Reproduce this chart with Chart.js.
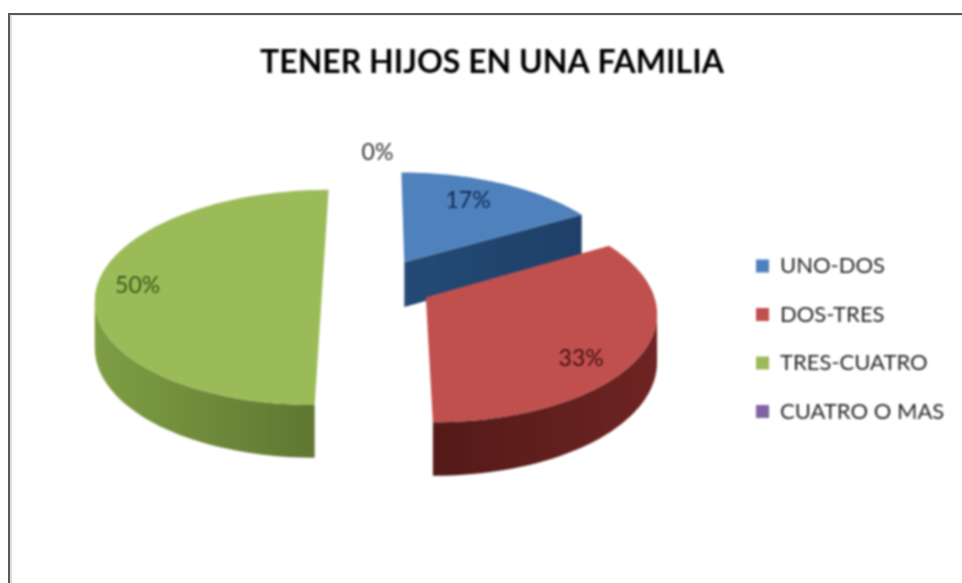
<!DOCTYPE html>
<html><head><meta charset="utf-8">
<style>
html,body{margin:0;padding:0;background:#fff;overflow:hidden}
#wrap{position:relative;width:962px;height:583px}
canvas{position:absolute;left:0;top:0;filter:blur(0.8px)}
#frame{position:absolute;left:8px;top:13px;right:0;bottom:0;border-left:2px solid #5a5a5a;border-top:2px solid #5a5a5a;pointer-events:none}
#frame2{position:absolute;left:10px;top:15px;right:0;bottom:0;border-left:2px solid #dcdcdc;border-top:1px solid #eee;pointer-events:none}
</style>
</head><body>
<div id="wrap"><canvas id="c" width="962" height="583"></canvas><div id="frame"></div><div id="frame2"></div></div>
<script src="https://cdn.jsdelivr.net/npm/chart.js@4/dist/chart.umd.min.js"></script>
<script>
const titleText = "TENER HIJOS EN UNA FAMILIA";
const categories = ["UNO-DOS", "DOS-TRES", "TRES-CUATRO", "CUATRO O MAS"];
const values = [1, 2, 3, 0];
const topColors = ["#4f81bd", "#c0504d", "#9bbb59", "#8064a2"];
const wallLeft = ["#234a75", "#521a18", "#7f9e44", "#5a4675"];
const wallRight = ["#1f4069", "#6e2422", "#5d7430", "#5a4675"];
const labelColors = ["#0f2a55", "#430f0f", "#3c5619", "#333333"];
const explode = [55, 55, 55, 0];
const labelFrac = [0.74, 0.81, 0.82, 1.47];
const labelTurn = [-4, 10, -1, 0];
const FONT = "Lato, 'Open Sans', sans-serif";

const tilt = 0.471, persp = 0.125, thickness = 46;

const pie3d = {
  id: "pie3d",
  afterLayout(chart) {
    // pie centre, legend and title placement
    const ca = chart.chartArea;
    ca.left = 0; ca.right = 755; ca.top = 0; ca.bottom = 568;
    ca.width = 755; ca.height = 568;
    const lg = chart.legend;
    const pad = lg.options.labels.padding, size = lg.options.labels.font.size;
    const h = lg.bottom - lg.top, w = lg.right - lg.left;
    lg.left = 756 - pad; lg.right = lg.left + w;
    lg.top = 266 - size / 2 - pad; lg.bottom = lg.top + h;
    const t = chart.titleBlock;
    if (t) { t.left += 22; }
  },
  beforeDatasetDraw(chart) {
    const ctx = chart.ctx;
    const arcs = chart.getDatasetMeta(0).data;
    const R = arcs[0].outerRadius, cx = arcs[0].x, cy = arcs[0].y;
    const proj = (a, b, h) => {
      const q = 1 / (1 - persp * b / R);
      return [cx + a * q, cy + tilt * b * q + (h || 0) * q];
    };
    const items = arcs.map((el, i) => {
      const mid = (el.startAngle + el.endAngle) / 2;
      const d = el.options.offset || 0;
      return { el, i, mid, ox: Math.cos(mid) * d, oy: Math.sin(mid) * d };
    });
    const order = items.slice().sort((u, v) => u.oy - v.oy);
    order.forEach(it => {
      const { el, i, ox, oy } = it;
      if (el.endAngle - el.startAngle <= 0) return;
      const n = 60;
      const scene = [[ox, oy]];
      for (let s = 0; s <= n; s++) {
        const t = el.startAngle + (el.endAngle - el.startAngle) * s / n;
        scene.push([ox + Math.cos(t) * R, oy + Math.sin(t) * R]);
      }
      const top = scene.map(p => proj(p[0], p[1], 0));
      const xs = top.map(p => p[0]);
      const minX = Math.min(...xs), maxX = Math.max(...xs);
      const grad = ctx.createLinearGradient(minX, 0, maxX, 0);
      grad.addColorStop(0, wallLeft[i]);
      grad.addColorStop(1, wallRight[i]);
      // contiguous runs of outline edges that face the viewer
      const runs = [];
      let run = null;
      for (let s = 0; s < scene.length; s++) {
        const e = (s + 1) % scene.length;
        const dx = top[e][0] - top[s][0], dy = top[e][1] - top[s][1];
        const ny = -dx / (Math.hypot(dx, dy) || 1);
        const straight = s === 0 || e === 0;
        if (ny > (straight ? 0.2 : 0)) {
          if (!run || straight) { run = [s]; runs.push(run); }
          run.push(e);
          if (straight) run = null;
        } else run = null;
      }
      ctx.fillStyle = grad;
      runs.forEach(r => {
        ctx.beginPath();
        r.forEach((s, k) => { const p = top[s]; k ? ctx.lineTo(p[0], p[1]) : ctx.moveTo(p[0], p[1]); });
        r.slice().reverse().forEach(s => { const p = proj(scene[s][0], scene[s][1], thickness); ctx.lineTo(p[0], p[1]); });
        ctx.closePath(); ctx.fill();
      });
      ctx.fillStyle = el.options.backgroundColor;
      ctx.beginPath();
      top.forEach((p, k) => k ? ctx.lineTo(p[0], p[1]) : ctx.moveTo(p[0], p[1]));
      ctx.closePath(); ctx.fill();
    });
    // percentage labels
    const total = values.reduce((a, b) => a + b, 0);
    ctx.font = "23px " + FONT;
    ctx.textAlign = "center"; ctx.textBaseline = "middle";
    items.forEach(it => {
      const ang = it.mid + labelTurn[it.i] * Math.PI / 180;
      const r = labelFrac[it.i] * R;
      const p = proj(it.ox + Math.cos(ang) * r, it.oy + Math.sin(ang) * r, 0);
      ctx.fillStyle = labelColors[it.i];
      ctx.fillText(Math.round(values[it.i] / total * 100) + "%", p[0], p[1]);
    });
    return false;
  }
};

new Chart(document.getElementById("c"), {
  type: "pie",
  data: {
    labels: categories,
    datasets: [{ data: values, backgroundColor: topColors, offset: explode, borderWidth: 0, radius: 225 }]
  },
  plugins: [pie3d],
  options: {
    responsive: false,
    animation: false,
    events: [],
    plugins: {
      tooltip: { enabled: false },
      title: {
        display: true, text: titleText, color: "#000",
        font: { family: FONT, size: 32, weight: "bold" },
        padding: { top: 43, bottom: 0 }
      },
      legend: {
        display: true, position: "right", align: "start",
        labels: {
          boxWidth: 13, boxHeight: 13, padding: 26.5,
          color: "#262626",
          font: { family: FONT, size: 22 }
        }
      }
    }
  }
});
</script>
</body></html>
